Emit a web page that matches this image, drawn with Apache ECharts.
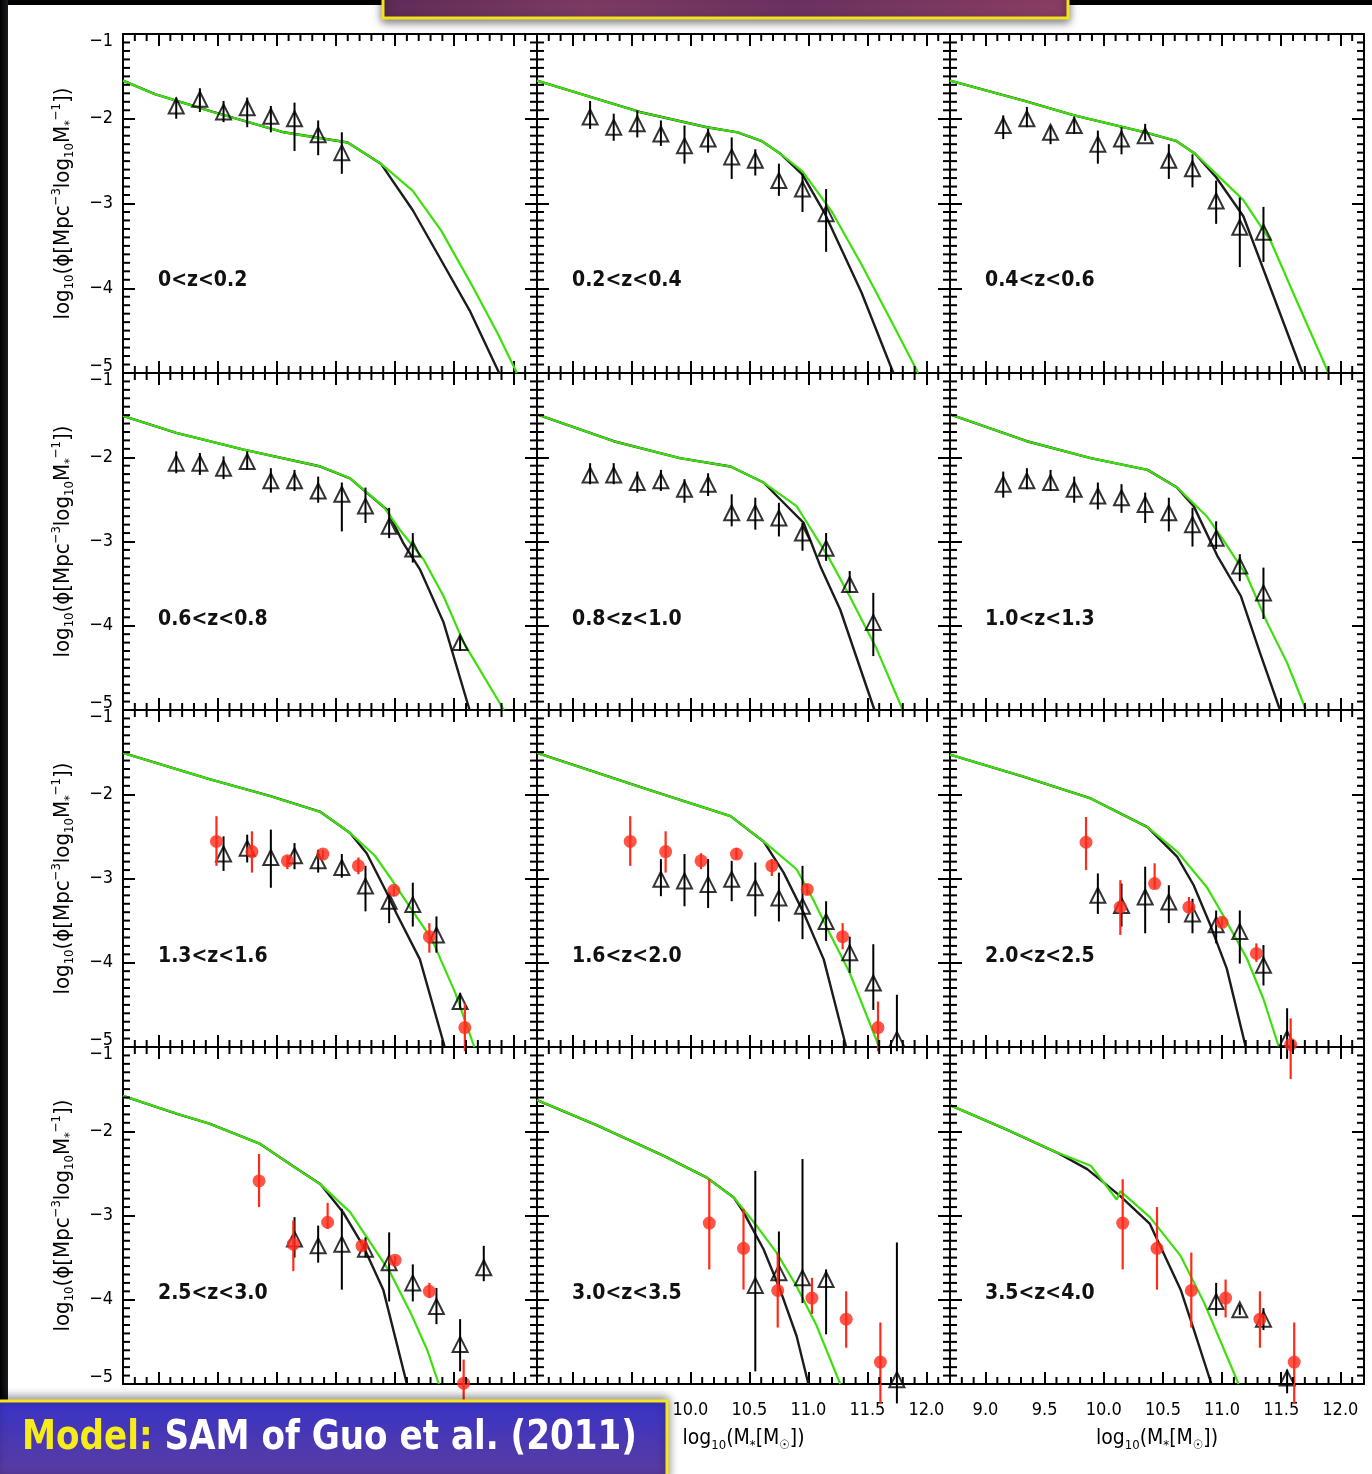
<!DOCTYPE html>
<html>
<head>
<meta charset="utf-8">
<script src="https://cdn.jsdelivr.net/npm/echarts@6/dist/echarts.min.js"></script>
<style>html,body{margin:0;padding:0;background:#fff;}#c{width:1372px;height:1474px;}</style>
</head>
<body>
<div id="c"></div>
<script>
// ---------------- data ----------------
const zLabels = ['0<z<0.2','0.2<z<0.4','0.4<z<0.6','0.6<z<0.8','0.8<z<1.0','1.0<z<1.3',
                 '1.3<z<1.6','1.6<z<2.0','2.0<z<2.5','2.5<z<3.0','3.0<z<3.5','3.5<z<4.0'];
const xMajorTicks = [9.0, 9.5, 10.0, 10.5, 11.0, 11.5, 12.0];
const xTickLabels = ['9.0','9.5','10.0','10.5','11.0','11.5','12.0'];
const yTickLabels = ['\u22125','\u22124','\u22123','\u22122','\u22121'];   // for -5 .. -1

// model curves [logM, logPhi] : black = model, green = model (convolved)
const black1 = [[8.70,-1.55],[8.97,-1.71],[9.46,-1.92],[10.06,-2.16],[10.60,-2.28],[10.88,-2.53],[11.15,-3.08],[11.39,-3.67],[11.63,-4.26],[11.88,-5.0]];
const green1 = [[8.70,-1.55],[8.97,-1.71],[9.46,-1.92],[10.06,-2.16],[10.60,-2.28],[10.88,-2.53],[11.15,-2.85],[11.39,-3.32],[11.66,-3.99],[11.87,-4.54],[12.03,-5.0]];
const black2 = [[8.70,-1.55],[9.57,-1.92],[10.14,-2.10],[10.40,-2.16],[10.60,-2.26],[10.76,-2.41],[10.95,-2.66],[11.14,-3.12],[11.45,-4.05],[11.72,-5.0]];
const green2 = [[8.70,-1.55],[9.57,-1.92],[10.14,-2.10],[10.40,-2.16],[10.60,-2.26],[10.76,-2.41],[10.95,-2.62],[11.20,-3.10],[11.45,-3.72],[11.70,-4.38],[11.93,-5.0]];
const black3 = [[8.70,-1.55],[9.33,-1.79],[9.75,-1.96],[10.35,-2.16],[10.61,-2.26],[10.77,-2.41],[10.95,-2.69],[11.18,-3.15],[11.41,-4.00],[11.68,-5.0]];
const green3 = [[8.70,-1.55],[9.33,-1.79],[9.75,-1.96],[10.35,-2.16],[10.61,-2.26],[10.77,-2.41],[10.95,-2.65],[11.18,-2.96],[11.41,-3.44],[11.60,-4.05],[11.90,-5.0]];
const black4 = [[8.70,-1.51],[9.15,-1.71],[9.72,-1.91],[10.37,-2.11],[10.62,-2.25],[10.76,-2.42],[10.93,-2.62],[11.07,-3.02],[11.21,-3.33],[11.41,-3.96],[11.63,-5.0]];
const green4 = [[8.70,-1.51],[9.15,-1.71],[9.72,-1.91],[10.37,-2.11],[10.62,-2.25],[10.90,-2.58],[11.04,-2.86],[11.24,-3.21],[11.41,-3.65],[11.58,-4.20],[11.92,-5.0]];
const black5 = [[8.70,-1.49],[9.35,-1.81],[9.91,-2.01],[10.34,-2.11],[10.62,-2.30],[10.79,-2.54],[10.96,-2.78],[11.10,-3.29],[11.27,-3.81],[11.56,-5.0]];
const green5 = [[8.70,-1.49],[9.35,-1.81],[9.91,-2.01],[10.34,-2.11],[10.62,-2.30],[10.90,-2.58],[10.99,-2.78],[11.18,-3.21],[11.35,-3.65],[11.58,-4.28],[11.80,-5.0]];
const black6 = [[8.70,-1.49],[9.35,-1.81],[9.89,-2.01],[10.37,-2.15],[10.62,-2.36],[10.76,-2.58],[10.96,-3.17],[11.16,-3.65],[11.32,-4.32],[11.49,-5.0]];
const green6 = [[8.70,-1.49],[9.35,-1.81],[9.89,-2.01],[10.37,-2.15],[10.62,-2.36],[10.87,-2.70],[11.01,-2.98],[11.21,-3.41],[11.38,-3.96],[11.55,-4.44],[11.71,-5.0]];
const black7 = [[8.70,-1.51],[9.43,-1.82],[9.94,-2.02],[10.37,-2.21],[10.62,-2.46],[10.76,-2.70],[10.93,-3.17],[11.01,-3.41],[11.21,-3.96],[11.42,-5.0]];
const green7 = [[8.70,-1.51],[9.43,-1.82],[9.94,-2.02],[10.37,-2.21],[10.62,-2.46],[10.83,-2.73],[10.97,-3.01],[11.14,-3.37],[11.31,-3.72],[11.51,-4.36],[11.67,-5.0]];
const black8 = [[8.70,-1.51],[9.63,-1.94],[10.34,-2.26],[10.62,-2.56],[10.79,-2.93],[10.96,-3.41],[11.13,-3.96],[11.32,-5.0]];
const green8 = [[8.70,-1.51],[9.63,-1.94],[10.34,-2.26],[10.62,-2.56],[10.90,-2.89],[11.04,-3.25],[11.18,-3.65],[11.35,-4.12],[11.60,-5.0]];
const black9 = [[8.70,-1.53],[9.32,-1.79],[9.89,-2.05],[10.37,-2.39],[10.62,-2.74],[10.76,-3.08],[10.90,-3.55],[11.04,-4.07],[11.20,-5.0]];
const green9 = [[8.70,-1.53],[9.32,-1.79],[9.89,-2.05],[10.37,-2.39],[10.62,-2.68],[10.87,-3.10],[11.01,-3.44],[11.21,-3.95],[11.35,-4.43],[11.48,-5.0]];
const black10 = [[8.70,-1.58],[9.15,-1.79],[9.43,-1.91],[9.86,-2.15],[10.11,-2.39],[10.37,-2.63],[10.56,-2.96],[10.73,-3.36],[10.90,-3.88],[11.10,-5.0]];
const green10 = [[8.70,-1.58],[9.15,-1.79],[9.43,-1.91],[9.86,-2.15],[10.11,-2.39],[10.37,-2.63],[10.62,-2.96],[10.79,-3.32],[10.96,-3.68],[11.13,-4.15],[11.27,-4.59],[11.37,-5.0]];
const black11 = [[8.70,-1.63],[9.21,-1.93],[9.77,-2.29],[10.14,-2.55],[10.37,-2.79],[10.45,-2.96],[10.62,-3.40],[10.76,-3.88],[10.90,-4.43],[11.00,-5.0]];
const green11 = [[8.70,-1.63],[9.21,-1.93],[9.77,-2.29],[10.14,-2.55],[10.37,-2.79],[10.56,-3.12],[10.73,-3.44],[10.90,-3.84],[11.07,-4.31],[11.27,-5.0]];
const black12 = [[8.70,-1.69],[9.18,-1.98],[9.60,-2.25],[9.86,-2.45],[10.14,-2.77],[10.39,-3.10],[10.65,-3.88],[10.76,-4.35],[10.91,-5.0]];
const green12 = [[8.70,-1.69],[9.18,-1.98],[9.60,-2.25],[9.89,-2.41],[10.11,-2.81],[10.14,-2.71],[10.39,-3.02],[10.65,-3.48],[10.85,-4.04],[11.14,-5.0]];

// observations, triangles: [logM, logPhi, errTop, errBottom]
const tri1 = [[9.15,-1.85,-1.75,-2.00],[9.35,-1.77,-1.64,-1.92],[9.55,-1.92,-1.79,-2.04],[9.75,-1.87,-1.75,-2.10],
              [9.95,-1.97,-1.85,-2.16],[10.15,-2.00,-1.81,-2.38],[10.35,-2.19,-2.02,-2.43],[10.55,-2.40,-2.16,-2.65]];
const tri2 = [[9.15,-1.98,-1.79,-2.12],[9.35,-2.10,-1.94,-2.26],[9.55,-2.06,-1.90,-2.22],[9.75,-2.18,-2.02,-2.32],
              [9.95,-2.32,-2.08,-2.53],[10.15,-2.24,-2.12,-2.40],[10.35,-2.45,-2.22,-2.71],[10.55,-2.49,-2.36,-2.67],
              [10.75,-2.73,-2.53,-2.91],[10.95,-2.83,-2.65,-3.10],[11.15,-3.12,-2.83,-3.57]];
const tri3 = [[9.15,-2.08,-1.96,-2.24],[9.35,-2.00,-1.86,-2.10],[9.55,-2.16,-2.08,-2.30],[9.75,-2.08,-1.98,-2.18],
              [9.95,-2.30,-2.14,-2.53],[10.15,-2.24,-2.10,-2.42],[10.35,-2.20,-2.06,-2.26],[10.55,-2.49,-2.30,-2.71],
              [10.75,-2.59,-2.42,-2.81],[10.95,-2.97,-2.73,-3.24],[11.15,-3.28,-2.93,-3.75],[11.35,-3.34,-3.04,-3.69]];
const tri4 = [[9.15,-2.07,-1.93,-2.19],[9.35,-2.07,-1.95,-2.21],[9.55,-2.13,-1.99,-2.26],[9.75,-2.05,-1.93,-2.15],
              [9.95,-2.28,-2.13,-2.42],[10.15,-2.28,-2.15,-2.40],[10.35,-2.40,-2.23,-2.54],[10.55,-2.44,-2.30,-2.88],
              [10.75,-2.58,-2.36,-2.78],[10.95,-2.82,-2.60,-2.96],[11.15,-3.09,-2.90,-3.25],[11.55,-4.20,-4.12,-4.30]];
const tri5 = [[9.15,-2.21,-2.07,-2.32],[9.35,-2.21,-2.07,-2.32],[9.55,-2.30,-2.17,-2.42],[9.75,-2.28,-2.15,-2.40],
              [9.95,-2.38,-2.26,-2.54],[10.15,-2.32,-2.19,-2.46],[10.35,-2.66,-2.44,-2.82],[10.55,-2.66,-2.48,-2.86],
              [10.75,-2.72,-2.54,-2.94],[10.95,-2.90,-2.78,-3.11],[11.15,-3.08,-2.90,-3.23],[11.35,-3.51,-3.35,-3.61],
              [11.55,-3.96,-3.61,-4.36]];
const tri6 = [[9.15,-2.32,-2.17,-2.48],[9.35,-2.28,-2.13,-2.38],[9.55,-2.30,-2.15,-2.40],[9.75,-2.38,-2.23,-2.54],
              [9.95,-2.46,-2.30,-2.62],[10.15,-2.48,-2.32,-2.66],[10.35,-2.56,-2.42,-2.78],[10.55,-2.66,-2.48,-2.88],
              [10.75,-2.80,-2.60,-3.06],[10.95,-2.96,-2.76,-3.09],[11.15,-3.29,-3.15,-3.47],[11.35,-3.61,-3.31,-3.92]];
const tri7 = [[9.55,-2.71,-2.50,-2.91],[9.75,-2.64,-2.48,-2.81],[9.95,-2.75,-2.42,-3.11],[10.15,-2.73,-2.58,-2.89],
              [10.35,-2.79,-2.66,-2.93],[10.55,-2.87,-2.71,-2.99],[10.75,-3.09,-2.85,-3.39],[10.95,-3.27,-3.17,-3.53],
              [11.15,-3.31,-3.05,-3.57],[11.35,-3.67,-3.45,-3.88],[11.55,-4.46,-4.36,-4.54]];
const tri8 = [[9.75,-3.01,-2.77,-3.21],[9.95,-3.03,-2.71,-3.33],[10.15,-3.07,-2.77,-3.35],[10.35,-3.01,-2.79,-3.27],
              [10.55,-3.11,-2.81,-3.45],[10.75,-3.23,-2.93,-3.51],[10.95,-3.33,-2.85,-3.72],[11.15,-3.51,-3.27,-3.74],
              [11.35,-3.88,-3.69,-4.12],[11.55,-4.24,-3.78,-4.56],[11.75,-4.91,-4.38,-5.05]];
const tri9 = [[9.95,-3.20,-2.94,-3.42],[10.15,-3.32,-3.06,-3.57],[10.35,-3.22,-2.86,-3.65],[10.55,-3.28,-3.08,-3.53],
              [10.75,-3.42,-3.24,-3.65],[10.95,-3.55,-3.38,-3.77],[11.15,-3.63,-3.38,-4.01],[11.35,-4.03,-3.79,-4.27],
              [11.55,-4.90,-4.54,-5.14]];
const tri10 = [[10.15,-3.28,-3.02,-3.50],[10.35,-3.36,-3.12,-3.56],[10.55,-3.34,-2.92,-3.88],[10.75,-3.40,-3.26,-3.50],
               [10.95,-3.56,-3.20,-4.02],[11.15,-3.80,-3.58,-4.02],[11.35,-4.08,-3.86,-4.29],[11.55,-4.53,-4.23,-4.85],
               [11.75,-3.62,-3.36,-3.78]];
const tri11 = [[10.55,-3.83,-2.47,-4.85],[10.75,-3.68,-3.19,-3.85],[10.95,-3.74,-2.33,-4.04],[11.15,-3.76,-3.64,-4.41],
               [11.75,-4.95,-3.32,-5.23]];
const tri12 = [[10.95,-4.02,-3.80,-4.19],[11.15,-4.12,-4.06,-4.18],[11.35,-4.23,-4.10,-4.36],[11.55,-4.93,-4.83,-5.11]];

// observations, red circles: [logM, logPhi, errTop, errBottom]
const red7 = [[9.49,-2.56,-2.26,-2.85],[9.79,-2.68,-2.44,-2.93],[10.09,-2.79,-2.73,-2.89],[10.39,-2.71,-2.66,-2.77],
              [10.69,-2.85,-2.75,-2.95],[10.99,-3.14,-3.09,-3.21],[11.29,-3.69,-3.53,-3.88],[11.59,-4.77,-4.48,-5.05]];
const red8 = [[9.49,-2.56,-2.26,-2.85],[9.79,-2.68,-2.44,-2.93],[10.09,-2.79,-2.70,-2.89],[10.39,-2.71,-2.64,-2.77],
              [10.69,-2.85,-2.77,-2.97],[10.99,-3.13,-3.07,-3.19],[11.29,-3.69,-3.53,-3.84],[11.59,-4.77,-4.46,-5.05]];
const red9 = [[9.85,-2.57,-2.27,-2.90],[10.14,-3.34,-3.02,-3.67],[10.43,-3.06,-2.82,-3.12],[10.72,-3.34,-3.22,-3.42],
              [11.00,-3.52,-3.46,-3.57],[11.29,-3.89,-3.77,-3.99],[11.58,-4.97,-4.66,-5.38]];
const red10 = [[9.85,-2.59,-2.27,-2.90],[10.14,-3.34,-3.06,-3.66],[10.43,-3.08,-2.85,-3.16],[10.72,-3.36,-3.30,-3.42],
               [11.00,-3.53,-3.48,-3.58],[11.29,-3.90,-3.80,-3.98],[11.58,-4.99,-4.71,-5.23]];
const red11 = [[10.16,-3.09,-2.57,-3.64],[10.45,-3.39,-2.92,-3.88],[10.74,-3.89,-3.44,-4.33],[11.03,-3.98,-3.74,-4.17],
               [11.32,-4.23,-3.90,-4.57],[11.61,-4.74,-4.27,-5.23]];
const red12 = [[10.16,-3.09,-2.57,-3.64],[10.45,-3.39,-2.90,-3.88],[10.74,-3.89,-3.44,-4.33],[11.03,-3.98,-3.76,-4.21],
               [11.32,-4.23,-3.90,-4.57],[11.61,-4.74,-4.27,-5.23]];

const panels = [
  {black: black1,  green: green1,  tri: tri1,  red: []},
  {black: black2,  green: green2,  tri: tri2,  red: []},
  {black: black3,  green: green3,  tri: tri3,  red: []},
  {black: black4,  green: green4,  tri: tri4,  red: []},
  {black: black5,  green: green5,  tri: tri5,  red: []},
  {black: black6,  green: green6,  tri: tri6,  red: []},
  {black: black7,  green: green7,  tri: tri7,  red: red7},
  {black: black8,  green: green8,  tri: tri8,  red: red8},
  {black: black9,  green: green9,  tri: tri9,  red: red9},
  {black: black10, green: green10, tri: tri10, red: red10},
  {black: black11, green: green11, tri: tri11, red: red11},
  {black: black12, green: green12, tri: tri12, red: red12}
];

// ---------------- layout / style ----------------
const colLeft = [123, 537, 950], colWidth = [414, 413, 414];
const rowTop = [34, 373, 710, 1047], rowHeight = [339, 337, 337, 337];
const X_MIN = 8.7, X_MAX = 12.2, Y_MIN = -5, Y_MAX = -1;
const FF = '"DejaVu Sans Condensed", "DejaVu Sans", sans-serif';
const BLACK = '#1c1c1c', GREEN = '#3ddf0c', RED = '#ff2a1a';

// minor tick positions (every 0.1 dex)
const xMinorTicks = [], yMinorTicks = [];
for (let k = 88; k <= 121; k++) if (k % 5 !== 0) xMinorTicks.push(k / 10);
for (let k = -49; k <= -11; k++) if (k % 10 !== 0) yMinorTicks.push(k / 10);

const chart = echarts.init(document.getElementById('c'), null, {renderer: 'canvas'});

function errBar(color, width) {
  return function (params, api) {
    const x = api.value(0);
    const a = api.coord([x, api.value(1)]);
    const b = api.coord([x, api.value(2)]);
    return {type: 'line', shape: {x1: a[0], y1: a[1], x2: b[0], y2: b[1]},
            style: {stroke: color, lineWidth: width}};
  };
}
// minor ticks on all four frame sides, positioned through the axes' scales
const MINOR_LEN = 7, MINOR_W = 2;
function minorTickX(params, api) {
  const x = api.value(0);
  const b = api.coord([x, Y_MIN]), t = api.coord([x, Y_MAX]);
  const st = {stroke: '#000', lineWidth: MINOR_W};
  return {type: 'group', children: [
    {type: 'line', shape: {x1: b[0], y1: b[1], x2: b[0], y2: b[1] - MINOR_LEN}, style: st},
    {type: 'line', shape: {x1: t[0], y1: t[1], x2: t[0], y2: t[1] + MINOR_LEN}, style: st}]};
}
function minorTickY(params, api) {
  const y = api.value(1);
  const l = api.coord([X_MIN, y]), r = api.coord([X_MAX, y]);
  const st = {stroke: '#000', lineWidth: MINOR_W};
  return {type: 'group', children: [
    {type: 'line', shape: {x1: l[0], y1: l[1], x2: l[0] + MINOR_LEN, y2: l[1]}, style: st},
    {type: 'line', shape: {x1: r[0], y1: r[1], x2: r[0] - MINOR_LEN, y2: r[1]}, style: st}]};
}

const xNameRich = {
  m: {fontSize: 21, lineHeight: 26, fontFamily: FF, color: '#000'},
  s: {fontSize: 13, lineHeight: 13, fontFamily: FF, color: '#000', verticalAlign: 'bottom'}
};
const xName = '{m|log}{s|10}{m|(M}{s|*}{m|[M}{s|\u2609}{m|])}';
const yNameRich = {
  m: {fontSize: 22, lineHeight: 26, fontFamily: FF, color: '#000'},
  s: {fontSize: 13, lineHeight: 13, fontFamily: FF, color: '#000', verticalAlign: 'bottom'},
  p: {fontSize: 13, lineHeight: 13, fontFamily: FF, color: '#000', verticalAlign: 'top'}
};
const yName = '{m|log}{s|10}{m|(\u03d5[Mpc}{p|\u22123}{m|log}{s|10}{m|M}{s|*}{p|\u22121}{m|])}';

const grid = [], xAxis = [], yAxis = [], series = [], graphic = [];
const frame = {show: true, onZero: false, lineStyle: {color: '#000', width: 2}};
const majorTickStyle = {color: '#000', width: 2};

panels.forEach((p, i) => {
  const r = Math.floor(i / 3), c = i % 3;
  grid.push({left: colLeft[c], top: rowTop[r], width: colWidth[c], height: rowHeight[r], containLabel: false});
  const xb = {type: 'value', gridIndex: i, min: X_MIN, max: X_MAX, splitLine: {show: false}, axisLine: frame};
  const xi = xAxis.length;
  xAxis.push(Object.assign({}, xb, {
    position: 'bottom',
    axisTick: {show: true, inside: true, length: 12, customValues: xMajorTicks, lineStyle: majorTickStyle},
    axisLabel: {show: r === 3, customValues: xMajorTicks, margin: 17, color: '#000', fontSize: 18, fontFamily: FF,
      formatter: v => xTickLabels[xMajorTicks.findIndex(t => Math.abs(t - v) < 1e-6)]},
    name: r === 3 ? xName : '', nameLocation: 'middle', nameGap: 42, nameTextStyle: {rich: xNameRich}
  }));
  xAxis.push(Object.assign({}, xb, {position: 'top',
    axisTick: {show: true, inside: true, length: 12, customValues: xMajorTicks, lineStyle: majorTickStyle},
    axisLabel: {show: false, customValues: xMajorTicks}}));

  const yb = {type: 'value', gridIndex: i, min: Y_MIN, max: Y_MAX, interval: 1, splitLine: {show: false}, axisLine: frame};
  const yi = yAxis.length;
  yAxis.push(Object.assign({}, yb, {
    position: 'left',
    axisTick: {show: true, inside: true, length: 12, lineStyle: majorTickStyle},
    axisLabel: {show: c === 0, margin: 10, color: '#000', fontSize: 18, fontFamily: FF,
      formatter: v => {
        const t = yTickLabels[Math.round(v) + 5];
        if (Math.round(v) === -1) return '{t|' + t + '}';
        if (Math.round(v) === -5) return '{b|' + t + '}';
        return t;
      },
      rich: {t: {padding: [14, 0, 0, 0], fontSize: 18, fontFamily: FF, color: '#000'},
             b: {padding: [0, 0, 14, 0], fontSize: 18, fontFamily: FF, color: '#000'}}},
    name: c === 0 ? yName : '', nameLocation: 'middle', nameRotate: 90, nameGap: 47,
    nameTextStyle: {rich: yNameRich}
  }));
  yAxis.push(Object.assign({}, yb, {position: 'right',
    axisTick: {show: true, inside: true, length: 12, lineStyle: majorTickStyle}, axisLabel: {show: false}}));

  // minor ticks
  series.push({type: 'custom', xAxisIndex: xi, yAxisIndex: yi, renderItem: minorTickX, clip: false, silent: true, z: 8,
    data: xMinorTicks.map(v => [v, Y_MIN]), encode: {x: 0, y: 1}});
  series.push({type: 'custom', xAxisIndex: xi, yAxisIndex: yi, renderItem: minorTickY, clip: false, silent: true, z: 8,
    data: yMinorTicks.map(v => [X_MIN, v]), encode: {x: 0, y: 1}});

  series.push({type: 'line', xAxisIndex: xi, yAxisIndex: yi, data: p.black, showSymbol: false, symbol: 'none',
    lineStyle: {color: BLACK, width: 2.4}, z: 2, silent: true});
  series.push({type: 'line', xAxisIndex: xi, yAxisIndex: yi, data: p.green, showSymbol: false, symbol: 'none',
    lineStyle: {color: GREEN, width: 2.2}, z: 3, silent: true});
  series.push({type: 'custom', xAxisIndex: xi, yAxisIndex: yi, renderItem: errBar('#000', 2),
    data: p.tri.map(d => [d[0], d[2], d[3]]), encode: {x: 0, y: [1, 2]}, clip: false, z: 4, silent: true});
  series.push({type: 'scatter', xAxisIndex: xi, yAxisIndex: yi, data: p.tri.map(d => [d[0], d[1]]),
    symbol: 'triangle', symbolSize: [15, 15],
    itemStyle: {color: 'rgba(255,255,255,0)', borderColor: '#000', borderWidth: 2}, clip: false, z: 5, silent: true});
  if (p.red.length) {
    series.push({type: 'custom', xAxisIndex: xi, yAxisIndex: yi, renderItem: errBar(RED, 2.2),
      data: p.red.map(d => [d[0], d[2], d[3]]), encode: {x: 0, y: [1, 2]}, clip: false, z: 6, silent: true});
    series.push({type: 'scatter', xAxisIndex: xi, yAxisIndex: yi, data: p.red.map(d => [d[0], d[1]]),
      symbol: 'circle', symbolSize: 13, itemStyle: {color: RED}, clip: false, z: 7, silent: true});
  }

  graphic.push({type: 'text', x: colLeft[c] + 35, y: rowTop[r] + 247, z: 20, silent: true,
    style: {text: zLabels[i], fill: '#111', font: 'bold 21px ' + FF, verticalAlign: 'middle', align: 'left'}});
});

// slide decorations
graphic.push({type: 'rect', shape: {x: 0, y: 0, width: 1372, height: 5}, style: {fill: '#000'}, z: 50, silent: true});
graphic.push({type: 'rect', shape: {x: 0, y: 0, width: 8, height: 1474},
  style: {fill: new echarts.graphic.LinearGradient(0, 0, 1, 0, [{offset: 0, color: '#000'}, {offset: 1, color: '#1b1b22'}])},
  z: 50, silent: true});
graphic.push({type: 'rect', shape: {x: 383, y: -12, width: 685, height: 30},
  style: {fill: new echarts.graphic.LinearGradient(0, 0, 1, 0, [
      {offset: 0, color: '#5e2c58'}, {offset: 0.3, color: '#7c3a63'}, {offset: 0.6, color: '#6a3160'}, {offset: 1, color: '#8a3e62'}]),
    stroke: '#f2e21a', lineWidth: 3, shadowBlur: 8, shadowColor: 'rgba(0,0,0,0.5)', shadowOffsetY: 3},
  z: 60, silent: true});
graphic.push({type: 'rect', shape: {x: -4, y: 1401, width: 671, height: 80},
  style: {fill: new echarts.graphic.LinearGradient(0, 0, 0, 1, [{offset: 0, color: '#3733c8'}, {offset: 1, color: '#5e3d9c'}]),
    stroke: '#f5e61c', lineWidth: 3, shadowBlur: 10, shadowColor: 'rgba(0,0,0,0.45)', shadowOffsetY: -2},
  z: 60, silent: true});
graphic.push({type: 'text', x: 22, y: 1439, z: 61, silent: true, scaleX: 0.95,
  style: {text: '{y|Model: }{w|SAM of Guo et al. (2011)}', verticalAlign: 'middle', align: 'left',
    rich: {y: {fill: '#f6ec1c', fontSize: 40, fontWeight: 'bold', fontFamily: FF},
           w: {fill: '#ffffff', fontSize: 40, fontWeight: 'bold', fontFamily: FF}}}});

chart.setOption({
  animation: false,
  backgroundColor: '#ffffff',
  grid, xAxis, yAxis, series, graphic
});
</script>
</body>
</html>
